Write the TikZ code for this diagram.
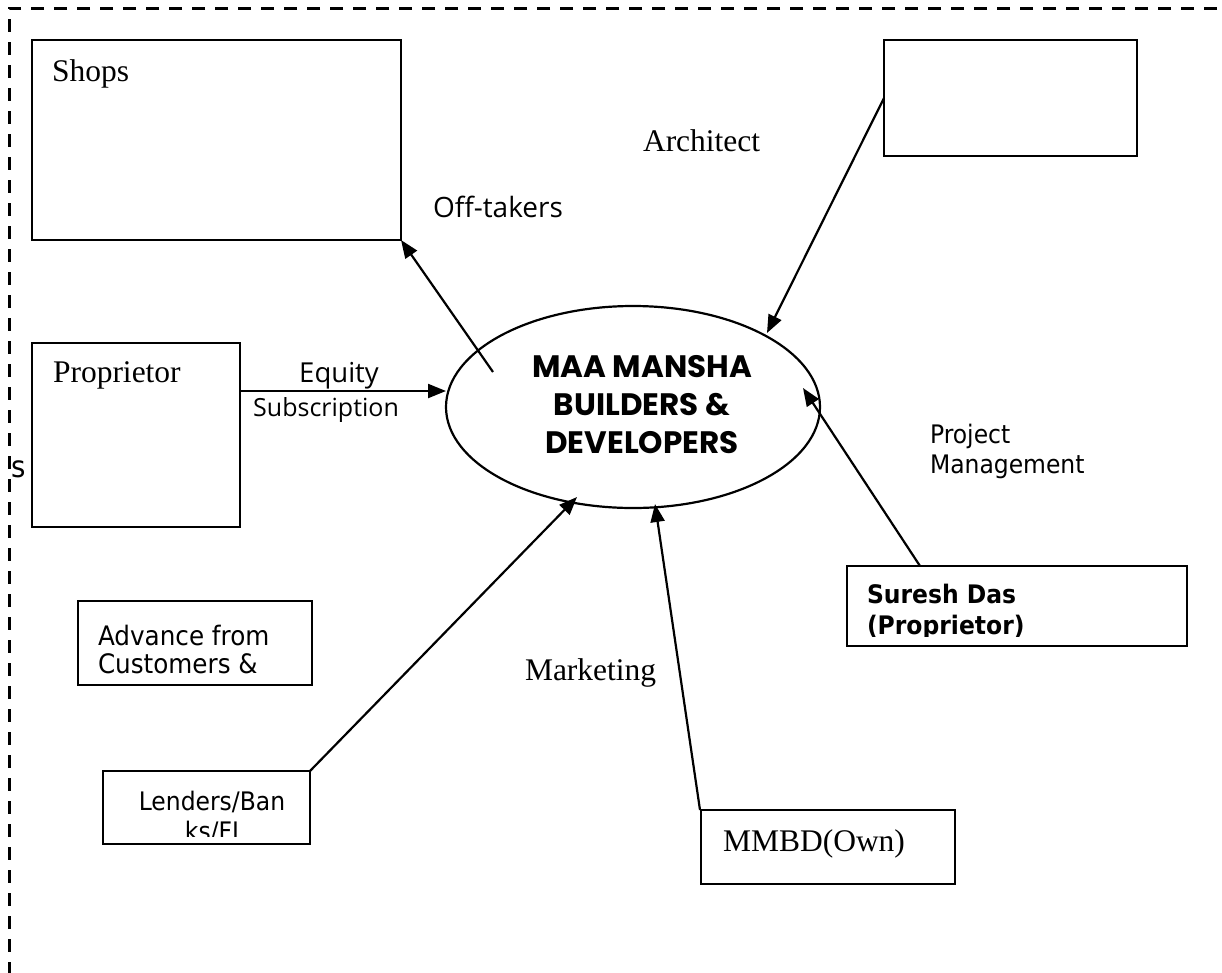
\documentclass[tikz,border=0pt]{standalone}
\usepackage{fontspec}
\setmainfont{Liberation Serif}
\newfontfamily\tahf{DejaVu Sans}[FakeStretch=0.92]
\newfontfamily\segf{Open Sans}
\newfontfamily\gothf{Poppins}
\usetikzlibrary{arrows.meta,shapes.geometric}
\begin{document}
\begin{tikzpicture}[x=1pt,y=-1pt,
  boxst/.style={draw,line width=2.2pt,inner sep=0pt,outer sep=0pt},
  lbl/.style={inner sep=0pt,outer sep=0pt,anchor=base west},
  clbl/.style={inner sep=0pt,outer sep=0pt,anchor=base},
  serif/.style={font=\fontsize{31.5}{36}\selectfont},
  tah/.style={font=\tahf\fontsize{25.5}{28}\selectfont},
  tahbig/.style={font=\tahf\fontsize{26.8}{28}\selectfont},
  tahb/.style={font=\tahf\bfseries\fontsize{25.5}{28}\selectfont},
  seg/.style={font=\segf\fontsize{26.5}{30}\selectfont},
  goth/.style={font=\gothf\bfseries\fontsize{31}{34}\selectfont},
  arr/.style={line width=2.2pt,-{Triangle[length=18pt,width=14pt]}}]
\clip (0,0) rectangle (1222,972);
\fill[white] (0,0) rectangle (1222,972);
% dashed frame
\draw[line width=3pt,dash pattern=on 13pt off 10pt] (1240,8) -- (9,8) -- (9,1000);
% boxes
\node[boxst,minimum width=369pt,minimum height=200pt] (shops) at (216.5,140) {};
\node[boxst,minimum width=253pt,minimum height=116pt] (arch) at (1010.5,98) {};
\node[boxst,minimum width=208pt,minimum height=184pt] (prop) at (136,435) {};
\node[boxst,minimum width=234pt,minimum height=84pt] (adv) at (195,643) {};
\node[boxst,minimum width=207pt,minimum height=73pt] (lend) at (206.5,807.5) {};
\node[boxst,minimum width=254pt,minimum height=74pt] (mmbd) at (828,847) {};
\node[boxst,minimum width=340pt,minimum height=80pt] (sur) at (1017,606) {};
\node[draw,ellipse,line width=2.2pt,minimum width=374pt,minimum height=202pt,inner sep=0pt] (ell) at (633,407) {};
% texts
\node[lbl,serif] (tshops) at (52,81) {Shops};
\node[lbl,serif] (tprop) at (53,382) {Proprietor};
\node[lbl,serif] (tarch) at (643,151) {Architect};
\node[lbl,serif] (tmkt) at (525,680) {Marketing};
\node[lbl,serif] (tmmbd) at (723,851) {MMBD(Own)};
\node[lbl,seg,font=\segf\fontsize{28}{30}\selectfont] (toff) at (433,217) {Off-takers};
\node[clbl,seg,font=\segf\fontsize{27.5}{30}\selectfont] (teq) at (339,382) {Equity};
\node[clbl,seg,font=\segf\fontsize{25}{30}\selectfont] (tsub) at (326,416) {Subscription};
\node[lbl,tah] (tpm1) at (930,443) {Project};
\node[lbl,tah] (tpm2) at (930,473) {Management};
\node[lbl,tahbig] (tadv1) at (98,645) {Advance from};
\node[lbl,tahbig] (tadv2) at (98,673) {Customers \&};
\node[lbl,tah,font=\tahf\fontsize{30}{32}\selectfont] (ts) at (11,477) {s};
\begin{scope}
  \clip (847,566) rectangle (1187,636);
  \node[lbl,tahb] (tsur1) at (867,603) {Suresh Das};
  \node[lbl,tahb] (tsur2) at (867,634) {(Proprietor)};
\end{scope}
\begin{scope}
  \clip (103,771) rectangle (310,836);
  \node[clbl,tah] (tlen1) at (212,810) {Lenders/Ban};
  \node[clbl,tah] (tlen2) at (212,840) {ks/FI};
\end{scope}
\node[clbl,goth] (tm1) at (642,377) {MAA MANSHA};
\node[clbl,goth] (tm2) at (642,415) {BUILDERS \&};
\node[clbl,goth] (tm3) at (642,453) {DEVELOPERS};
% connector endpoints
\coordinate (offs) at (493,372);
\coordinate (archt) at (767,333);
\coordinate (eqs) at (240,391);
\coordinate (eqt) at (446,391);
\coordinate (pms) at (920,566);
\coordinate (pmt) at (803,388);
\coordinate (lent) at (577,497);
\coordinate (mkts) at (700,810);
\coordinate (mktt) at (655,504);
% connectors
\draw[arr] (offs) -- (shops.south east);
\draw[arr] (arch.west) -- (archt);
\draw[arr] (eqs) -- (eqt);
\draw[arr] (pms) -- (pmt);
\draw[arr] (lend.north east) -- (lent);
\draw[arr] (mkts) -- (mktt);
\end{tikzpicture}
\end{document}
